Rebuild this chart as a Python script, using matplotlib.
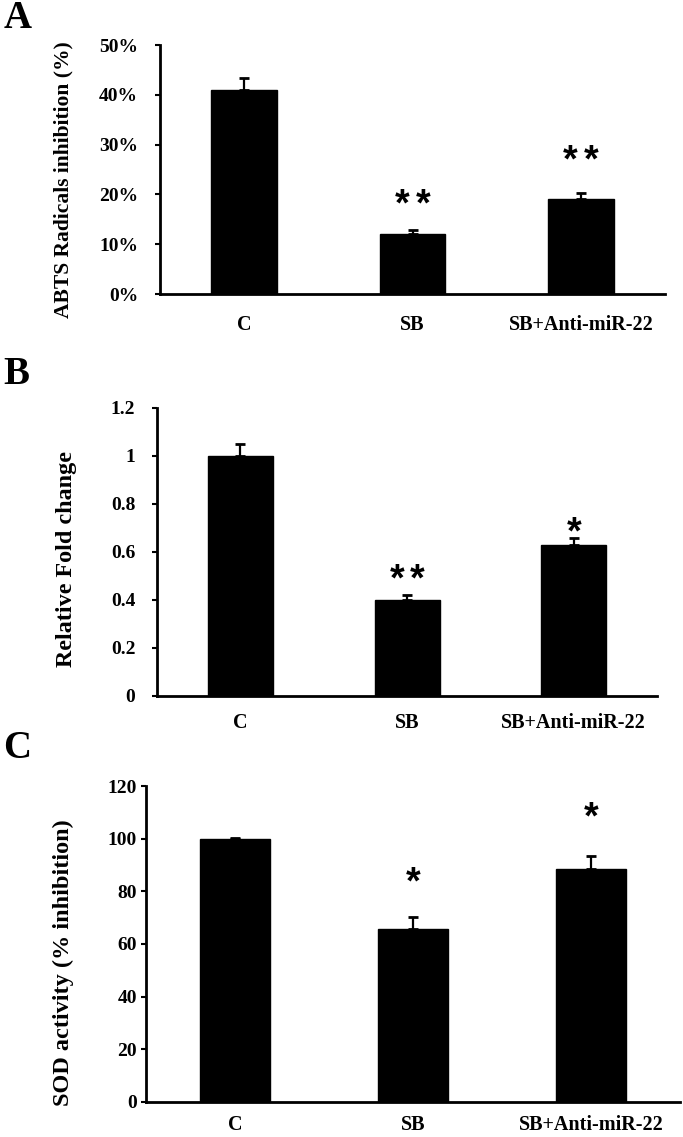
import matplotlib
matplotlib.use("Agg")
from matplotlib import pyplot as plt
import numpy as np

plt.rcParams['font.family'] = ['Liberation Serif', 'DejaVu Serif']
plt.rcParams['font.weight'] = 'bold'

groups = ['C', 'SB', 'SB+Anti-miR-22']

# panel A - ABTS radicals inhibition (fraction)
abts = [0.41, 0.12, 0.191]
abts_err = [0.024, 0.009, 0.012]
abts_stars = [0, 2, 2]
abts_star_y = [0, 0.177, 0.267]

# panel B - relative fold change
fold = [1.0, 0.40, 0.63]
fold_err = [0.05, 0.02, 0.03]
fold_stars = [0, 2, 1]
fold_star_y = [0, 0.48, 0.678]

# panel C - SOD activity
sod = [99.8, 65.7, 88.3]
sod_err = [0.5, 4.5, 5.0]
sod_stars = [0, 1, 1]
sod_star_y = [0, 83, 107.7]

fig = plt.figure(figsize=(6.83, 11.37), dpi=100)

axA = fig.add_axes([0.234, 0.7414, 0.740, 0.219])
axB = fig.add_axes([0.230, 0.3879, 0.732, 0.2533])
axC = fig.add_axes([0.2138, 0.0308, 0.7818, 0.2779])

panels = [
    (axA, abts, abts_err, abts_stars, abts_star_y, 'ABTS Radicals inhibition (%)', 15.5,
     np.arange(0, 0.51, 0.1), ['0%', '10%', '20%', '30%', '40%', '50%'], 0.5, (-0.17, 0.458), 12, 15),
    (axB, fold, fold_err, fold_stars, fold_star_y, 'Relative Fold change', 17.4,
     np.arange(0, 1.21, 0.2), ['0', '0.2', '0.4', '0.6', '0.8', '1', '1.2'], 1.2, (-0.16, 0.476), 12, 12),
    (axC, sod, sod_err, sod_stars, sod_star_y, 'SOD activity (% inhibition)', 17.5,
     np.arange(0, 121, 20), ['0', '20', '40', '60', '80', '100', '120'], 120, (-0.135, 0.44), 3, 9.5),
]

x = np.arange(len(groups))
for ax, vals, errs, stars, star_y, ylab, ylab_fs, yt, ytl, ymax, lab_xy, pad, xpad in panels:
    ax.bar(x, vals, width=0.39, color='black', edgecolor='black')
    ax.errorbar(x, vals, yerr=[np.zeros(3), errs], fmt='none', ecolor='black',
                elinewidth=1.6, capsize=3.5, capthick=2)
    for i, n in enumerate(stars):
        offs = [0] if n == 1 else [-7.5, 7.5]
        if n == 0:
            offs = []
        for dx in offs:
            ax.annotate('*', (x[i], star_y[i]), xytext=(dx, 0), textcoords='offset points',
                        ha='center', va='center', fontsize=27,
                        family='Liberation Sans', fontweight='bold')
    ax.set_xlim(-0.5, 2.5)
    ax.set_ylim(0, ymax)
    ax.set_yticks(yt)
    ax.set_yticklabels(ytl, fontsize=14, fontweight='bold')
    ax.set_xticks(x)
    ax.set_xticklabels(groups, fontsize=14.5, fontweight='bold')
    ax.tick_params(axis='x', length=0, pad=xpad)
    ax.tick_params(axis='y', length=3.6, width=1.5, direction='out', pad=pad)
    ax.spines['top'].set_visible(False)
    ax.spines['right'].set_visible(False)
    ax.spines['left'].set_linewidth(2)
    ax.spines['bottom'].set_linewidth(2)
    ax.set_ylabel(ylab, fontsize=ylab_fs, fontweight='bold')
    ax.yaxis.set_label_coords(*lab_xy)

fig.text(0.005, 0.984, 'A', fontsize=28, fontweight='bold', va='center', ha='left')
fig.text(0.005, 0.671, 'B', fontsize=28, fontweight='bold', va='center', ha='left')
fig.text(0.005, 0.342, 'C', fontsize=28, fontweight='bold', va='center', ha='left')

plt.savefig('out.png', dpi=100)
